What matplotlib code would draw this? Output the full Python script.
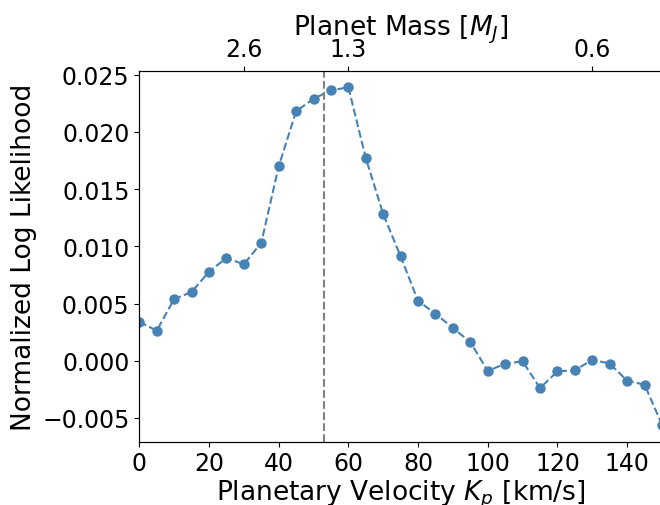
import matplotlib
matplotlib.use('Agg')
import matplotlib.pyplot as plt
import numpy as np

kp = np.arange(0, 155, 5)
loglike = [0.00341, 0.00262, 0.00539, 0.00600, 0.00778, 0.00898, 0.00843, 0.01030,
           0.01699, 0.02180, 0.02290, 0.02363, 0.02390, 0.01772, 0.01280, 0.00912,
           0.00522, 0.00411, 0.00286, 0.00163, -0.00090, -0.00026, -0.00006, -0.00239,
           -0.00093, -0.00084, 0.00009, -0.00026, -0.00175, -0.00210, -0.00559]

kp_true = 53
kp_ticks = [0, 20, 40, 60, 80, 100, 120, 140]
mass_ticks = [30, 60, 130]
mass_labels = ['2.6', '1.3', '0.6']

fig = plt.figure(figsize=(6.6, 5.06), dpi=100)
ax = fig.add_axes([139.3/660, (506-442.7)/506, 522.7/660, (442.7-71.7)/506])
ax.plot(kp, loglike, 'o--', color='steelblue', markersize=6.5, linewidth=1.5)
ax.axvline(kp_true, color='gray', linestyle='--', linewidth=1.5)
ax.set_xlim(0, 150)
ax.set_xticks(kp_ticks)
ax.set_ylim(-0.00708, 0.02535)
ax.set_xlabel('Planetary Velocity $K_p$ [km/s]', fontsize=19, labelpad=2)
ax.set_ylabel('Normalized Log Likelihood', fontsize=19)
ax.tick_params(labelsize=17)

ax2 = ax.twiny()
ax2.set_xlim(ax.get_xlim())
ax2.set_xticks(mass_ticks)
ax2.set_xticklabels(mass_labels)
ax2.tick_params(labelsize=17)
ax2.set_xlabel('Planet Mass [$M_J$]', fontsize=19, labelpad=2)

fig.savefig('out.png', dpi=100)
